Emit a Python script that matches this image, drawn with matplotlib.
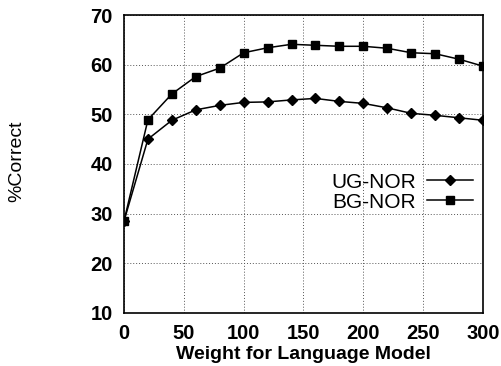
import numpy as np
import matplotlib.pyplot as plt

weights = [0, 20, 40, 60, 80, 100, 120, 140, 160, 180, 200, 220, 240, 260, 280, 300]
ug_nor = [28.5, 45.0, 48.8, 50.9, 51.8, 52.4, 52.5, 52.9, 53.2, 52.6, 52.2, 51.3, 50.2, 49.8, 49.3, 48.8]
bg_nor = [28.5, 48.9, 54.1, 57.6, 59.3, 62.4, 63.4, 64.1, 63.9, 63.7, 63.7, 63.3, 62.4, 62.2, 61.1, 59.7]

plt.rcParams['font.family'] = ['Liberation Sans', 'DejaVu Sans']

fig = plt.figure(figsize=(5.01, 3.66), dpi=100)
ax = fig.add_axes([0.2475, 0.145, 0.7165, 0.814])
ax.plot(weights, ug_nor, color='black', lw=1.1, marker='D', ms=5.5, label='UG-NOR')
ax.plot(weights, bg_nor, color='black', lw=1.1, marker='s', ms=6, label='BG-NOR')
ax.set_xlim(0, 300)
ax.set_ylim(10, 70)
ax.set_xticks(np.arange(0, 301, 50))
ax.set_yticks(np.arange(10, 71, 10))
ax.grid(True, color='#555555', ls=(0, (1, 2)), lw=0.7)
ax.tick_params(direction='in', length=0, labelsize=14.5, pad=8)
ax.tick_params(axis='x', pad=8)
for lab in ax.get_xticklabels() + ax.get_yticklabels():
    lab.set_fontweight('bold')
for s in ax.spines.values():
    s.set_linewidth(1.2)
ax.set_xlabel('Weight for Language Model', fontsize=14, fontweight='bold', labelpad=2)
fig.text(0.033, 0.56, '%Correct', rotation=90, fontsize=14, ha='center', va='center')
ax.legend(loc='center right', bbox_to_anchor=(1.0, 0.405), frameon=False, markerfirst=False,
          fontsize=15, handlelength=2.2, handletextpad=0.5, labelspacing=0.05, borderaxespad=0.1)
fig.savefig('out.png', dpi=100)
